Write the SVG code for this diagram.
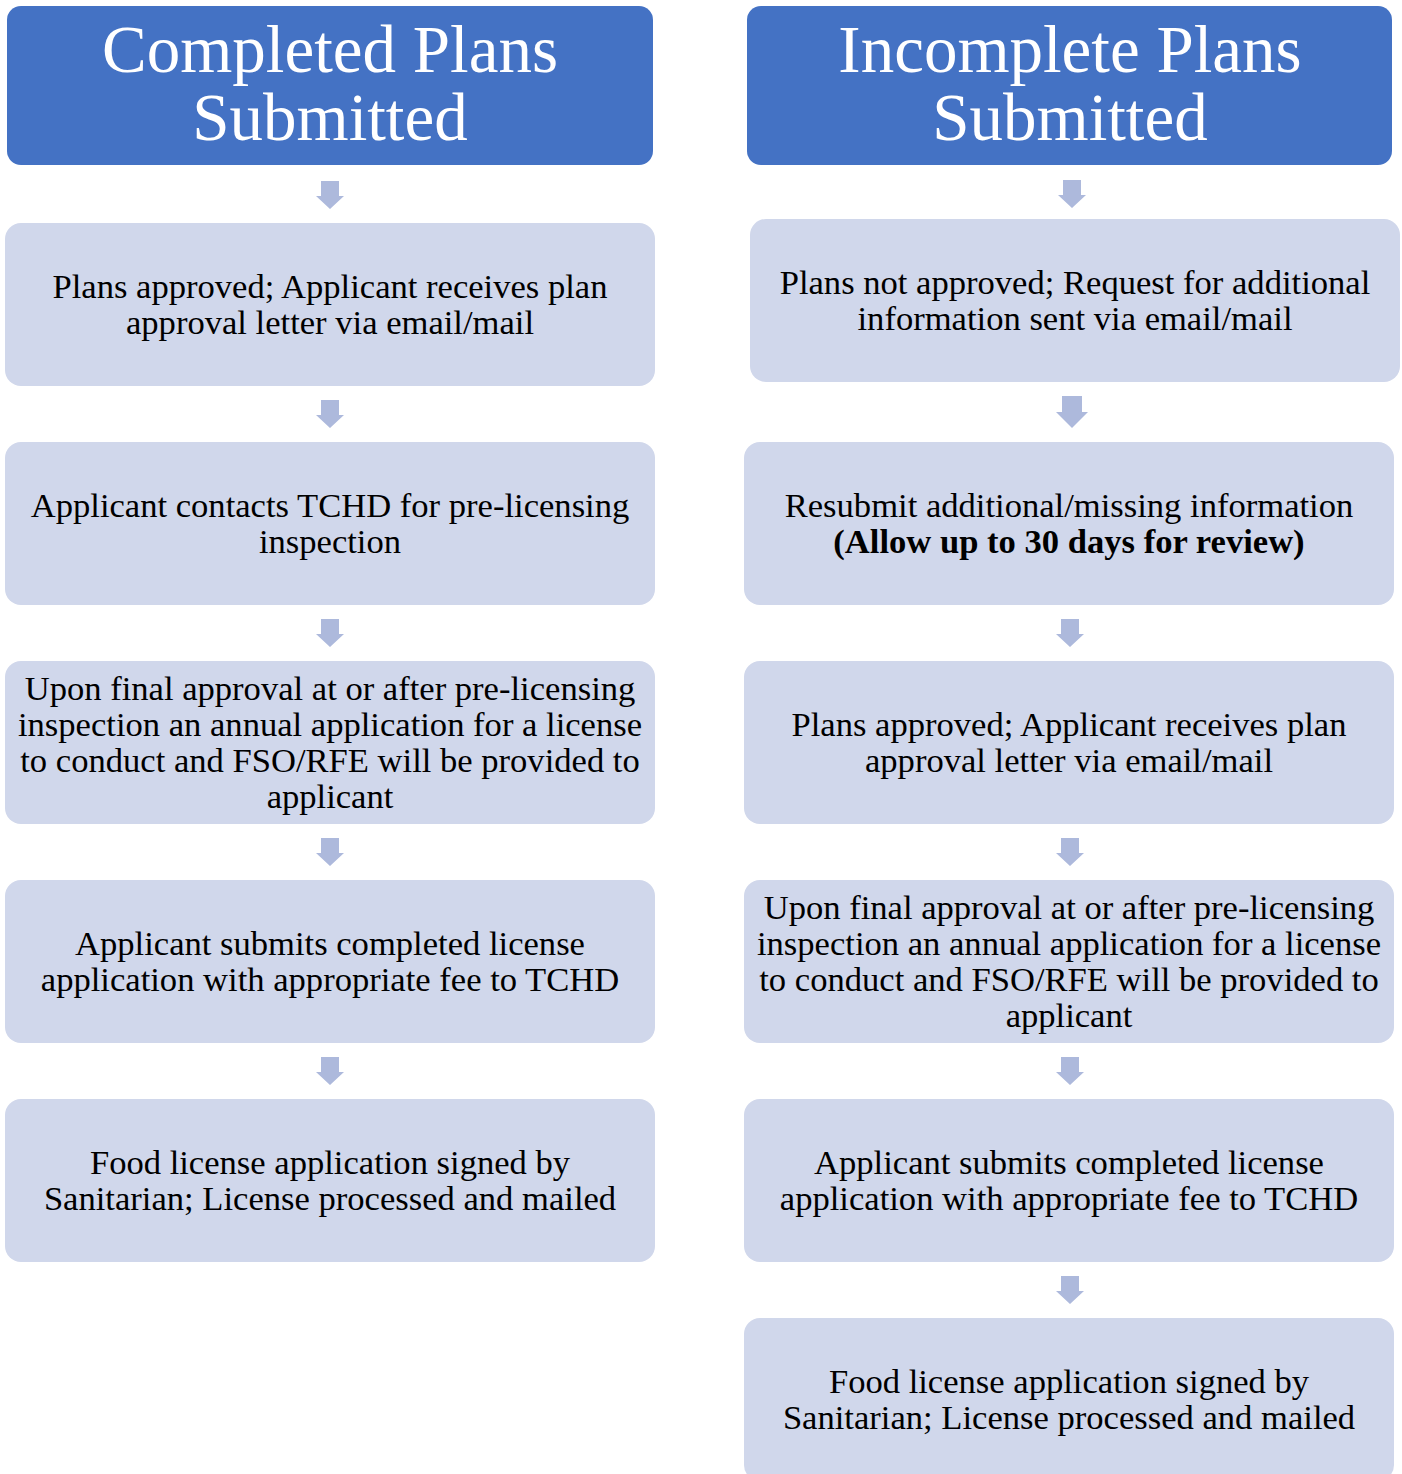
<svg xmlns="http://www.w3.org/2000/svg" width="1402" height="1474" viewBox="0 0 1402 1474">
<style>
.hdr{fill:#4472C4}
.box{fill:#D0D7EB}
.arr{fill:#ADB9DC}
.ht{font-family:"Liberation Serif","Times New Roman",serif;font-size:67px;fill:#FFFFFF;text-anchor:middle}
.bt{font-family:"Liberation Serif","Times New Roman",serif;font-size:34.6px;fill:#000000;text-anchor:middle}
.b{font-weight:bold}
</style>
<defs>
<path id="ar" d="M-9,0 H9 V15 H14 L0,28 L-14,15 H-9 Z"/>
</defs>
<rect width="1402" height="1474" fill="#FFFFFF"/>
<g id="connectors" class="arr">
<use href="#ar" x="330" y="181"/>
<use href="#ar" x="330" y="400"/>
<use href="#ar" x="330" y="619"/>
<use href="#ar" x="330" y="838"/>
<use href="#ar" x="330" y="1057"/>
<use href="#ar" x="1072" y="180"/>
<path d="M1062,396 H1082 V412 H1088 L1072,428 L1056,412 H1062 Z"/>
<use href="#ar" x="1070" y="619"/>
<use href="#ar" x="1070" y="838"/>
<use href="#ar" x="1070" y="1057"/>
<use href="#ar" x="1070" y="1276"/>
</g>
<g id="left-header">
<rect class="hdr" x="7" y="6" width="646" height="159" rx="14"/>
<text class="ht" x="330" y="72">Completed Plans</text>
<text class="ht" x="330" y="140">Submitted</text>
</g>
<g id="left-1">
<rect class="box" x="5" y="223" width="650" height="163" rx="16"/>
<text class="bt" x="330" y="298">Plans approved; Applicant receives plan</text>
<text class="bt" x="330" y="334">approval letter via email/mail</text>
</g>
<g id="left-2">
<rect class="box" x="5" y="442" width="650" height="163" rx="16"/>
<text class="bt" x="330" y="517">Applicant contacts TCHD for pre-licensing</text>
<text class="bt" x="330" y="553">inspection</text>
</g>
<g id="left-3">
<rect class="box" x="5" y="661" width="650" height="163" rx="16"/>
<text class="bt" x="330" y="700">Upon final approval at or after pre-licensing</text>
<text class="bt" x="330" y="736">inspection an annual application for a license</text>
<text class="bt" x="330" y="772">to conduct and FSO/RFE will be provided to</text>
<text class="bt" x="330" y="808">applicant</text>
</g>
<g id="left-4">
<rect class="box" x="5" y="880" width="650" height="163" rx="16"/>
<text class="bt" x="330" y="955">Applicant submits completed license</text>
<text class="bt" x="330" y="991">application with appropriate fee to TCHD</text>
</g>
<g id="left-5">
<rect class="box" x="5" y="1099" width="650" height="163" rx="16"/>
<text class="bt" x="330" y="1174">Food license application signed by</text>
<text class="bt" x="330" y="1210">Sanitarian; License processed and mailed</text>
</g>
<g id="right-header">
<rect class="hdr" x="747" y="6" width="645" height="159" rx="14"/>
<text class="ht" x="1070" y="72">Incomplete Plans</text>
<text class="ht" x="1070" y="140">Submitted</text>
</g>
<g id="right-1">
<rect class="box" x="750" y="219" width="650" height="163" rx="16"/>
<text class="bt" x="1075" y="294">Plans not approved; Request for additional</text>
<text class="bt" x="1075" y="330">information sent via email/mail</text>
</g>
<g id="right-2">
<rect class="box" x="744" y="442" width="650" height="163" rx="16"/>
<text class="bt" x="1069" y="517">Resubmit additional/missing information</text>
<text class="bt b" x="1069" y="553">(Allow up to 30 days for review)</text>
</g>
<g id="right-3">
<rect class="box" x="744" y="661" width="650" height="163" rx="16"/>
<text class="bt" x="1069" y="736">Plans approved; Applicant receives plan</text>
<text class="bt" x="1069" y="772">approval letter via email/mail</text>
</g>
<g id="right-4">
<rect class="box" x="744" y="880" width="650" height="163" rx="16"/>
<text class="bt" x="1069" y="919">Upon final approval at or after pre-licensing</text>
<text class="bt" x="1069" y="955">inspection an annual application for a license</text>
<text class="bt" x="1069" y="991">to conduct and FSO/RFE will be provided to</text>
<text class="bt" x="1069" y="1027">applicant</text>
</g>
<g id="right-5">
<rect class="box" x="744" y="1099" width="650" height="163" rx="16"/>
<text class="bt" x="1069" y="1174">Applicant submits completed license</text>
<text class="bt" x="1069" y="1210">application with appropriate fee to TCHD</text>
</g>
<g id="right-6">
<rect class="box" x="744" y="1318" width="650" height="163" rx="16"/>
<text class="bt" x="1069" y="1393">Food license application signed by</text>
<text class="bt" x="1069" y="1429">Sanitarian; License processed and mailed</text>
</g>
</svg>
